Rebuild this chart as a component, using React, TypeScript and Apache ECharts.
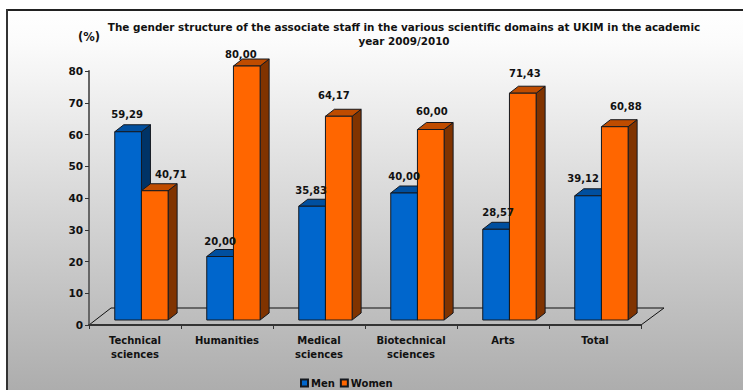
import React, { useEffect, useRef } from "react";
import * as echarts from "echarts";

const titleText =
  "The gender structure of the associate staff in the various scientific domains at UKIM in the academic\nyear 2009/2010";
const unitLabel = "(%)";
const categories = [
  "Technical\nsciences",
  "Humanities",
  "Medical\nsciences",
  "Biotechnical\nsciences",
  "Arts",
  "Total",
];
const men = [59.29, 20.0, 35.83, 40.0, 28.57, 39.12];
const women = [40.71, 80.0, 64.17, 60.0, 71.43, 60.88];

const FONT = '"DejaVu Sans", Verdana, sans-serif';
const LABEL_FONT = `bold 10px ${FONT}`;
const BORDER = "#14181f";

// label placement relative to the top-centre of each bar
const menNudge = [[-1, -17], [0, -15], [-1, -16], [0, -17], [2, -17], [-5, -17]];
const womenNudge = [[16, -16], [-6, -12], [-5, -21], [1, -18], [2, -20], [11, -20]];

const palette = {
  men: { front: "#0066cc", top: "#004f9f", side: "#003366" },
  women: { front: "#ff6600", top: "#bf4c00", side: "#803300" },
};

function barRenderer(which: "men" | "women") {
  const colors = palette[which];
  const nudges = which === "men" ? menNudge : womenNudge;
  const barZ = which === "men" ? 1 : 2;
  return (params: any, api: any) => {
    const i = api.value(0);
    const v = api.value(1);
    const band = api.size([1, 0])[0];
    const w = band * 0.29;
    const top = api.coord([i, v]);
    const base = api.coord([i, 0]);
    const shiftX = band * 0.07;
    const cx = top[0] + shiftX;
    const x0 = which === "men" ? cx - w : cx;
    const x1 = x0 + w;
    const yT = top[1] - 5;
    const yB = base[1] - 5;
    const dx = 9;
    const dy = 7;
    const line = { stroke: BORDER, lineWidth: 1 };
    const n = nudges[params.dataIndex];
    return {
      type: "group",
      children: [
        {
          type: "polygon",
          z2: barZ,
          shape: { points: [[x1, yT], [x1 + dx, yT - dy], [x1 + dx, yB - dy], [x1, yB]] },
          style: { fill: colors.side, ...line },
        },
        {
          type: "polygon",
          z2: barZ,
          shape: { points: [[x0, yT], [x0 + dx, yT - dy], [x1 + dx, yT - dy], [x1, yT]] },
          style: { fill: colors.top, ...line },
        },
        {
          type: "rect",
          z2: barZ,
          shape: { x: x0, y: yT, width: w, height: yB - yT },
          style: { fill: colors.front, ...line },
        },
        {
          type: "text",
          z2: 10,
          style: {
            x: (x0 + x1) / 2 + n[0],
            y: yT + n[1],
            text: v.toFixed(2).replace(".", ","),
            font: LABEL_FONT,
            fill: "#111",
            align: "center",
            verticalAlign: "middle",
          },
        },
      ],
    };
  };
}

export default function App() {
  const ref = useRef<HTMLDivElement>(null);
  useEffect(() => {
    const chart = echarts.init(ref.current!, undefined, { renderer: "svg" });
    const toData = (vals: number[]) => vals.map((v, i) => [i, v]);
    chart.setOption({
      animation: false,
      textStyle: { fontFamily: FONT },
      title: {
        text: titleText,
        left: 399,
        top: 15,
        textAlign: "center",
        textStyle: { fontFamily: FONT, fontWeight: "bold", fontSize: 10.4, lineHeight: 14, color: "#111" },
      },
      grid: { left: 89, right: 102, top: 71, bottom: 65 },
      legend: {
        data: ["Men", "Women"],
        left: 300,
        top: 378,
        itemWidth: 7,
        itemHeight: 7,
        itemGap: 5,
        padding: 0,
        icon: "rect",
        textStyle: { fontFamily: FONT, fontWeight: "bold", fontSize: 10, color: "#111", padding: [0, 0, 0, -2] },
      },
      xAxis: {
        type: "category",
        data: categories,
        axisLine: { lineStyle: { color: "#333", width: 2 } },
        axisTick: { show: true, length: 4, alignWithLabel: false, lineStyle: { color: "#333" } },
        axisLabel: {
          color: "#111",
          fontFamily: FONT,
          fontWeight: "bold",
          fontSize: 10,
          lineHeight: 14,
          margin: 8,
          interval: 0,
        },
      },
      yAxis: {
        type: "value",
        min: 0,
        max: 80,
        interval: 10,
        name: unitLabel,
        nameLocation: "end",
        nameGap: 28,
        nameTextStyle: { fontFamily: FONT, fontWeight: "bold", fontSize: 11.5, color: "#111", align: "center" },
        splitLine: { show: false },
        axisLine: { show: true, lineStyle: { color: "#666", width: 2 } },
        axisTick: { show: true, length: 4, lineStyle: { color: "#333" } },
        axisLabel: { color: "#111", fontFamily: FONT, fontWeight: "bold", fontSize: 10.5, margin: 6 },
      },
      graphic: [
        {
          type: "rect",
          z: -10,
          shape: { x: 7, y: 10, width: 736, height: 380 },
          style: {
            fill: {
              type: "linear",
              x: 0,
              y: 0,
              x2: 0,
              y2: 1,
              colorStops: [
                { offset: 0, color: "#ffffff" },
                { offset: 0.09, color: "#fbfbfb" },
                { offset: 1, color: "#adadad" },
              ],
            },
          },
        },
        { type: "line", z: -9, shape: { x1: 6, y1: 10, x2: 743, y2: 10 }, style: { stroke: "#222", lineWidth: 2 } },
        { type: "line", z: -9, shape: { x1: 7, y1: 9, x2: 7, y2: 390 }, style: { stroke: "#333", lineWidth: 2 } },
        { type: "line", z: -8, shape: { x1: 111, y1: 308, x2: 664, y2: 308 }, style: { stroke: "#666", lineWidth: 2 } },
        { type: "line", z: -8, shape: { x1: 89, y1: 325, x2: 111, y2: 308 }, style: { stroke: "#111", lineWidth: 1 } },
        { type: "line", z: -8, shape: { x1: 641, y1: 325, x2: 664, y2: 308 }, style: { stroke: "#111", lineWidth: 1 } },
      ],
      series: [
        {
          name: "Men",
          type: "custom",
          clip: false,
          z: 3,
          encode: { x: 0, y: 1 },
          data: toData(men),
          itemStyle: { color: palette.men.front, borderColor: BORDER, borderWidth: 1 },
          renderItem: barRenderer("men"),
        },
        {
          name: "Women",
          type: "custom",
          clip: false,
          z: 3,
          encode: { x: 0, y: 1 },
          data: toData(women),
          itemStyle: { color: palette.women.front, borderColor: BORDER, borderWidth: 1 },
          renderItem: barRenderer("women"),
        },
      ],
    });
    return () => chart.dispose();
  }, []);
  return (
    <div
      ref={ref}
      style={{ position: "fixed", left: 0, top: 0, width: 743, height: 390, background: "#fff" }}
    />
  );
}
